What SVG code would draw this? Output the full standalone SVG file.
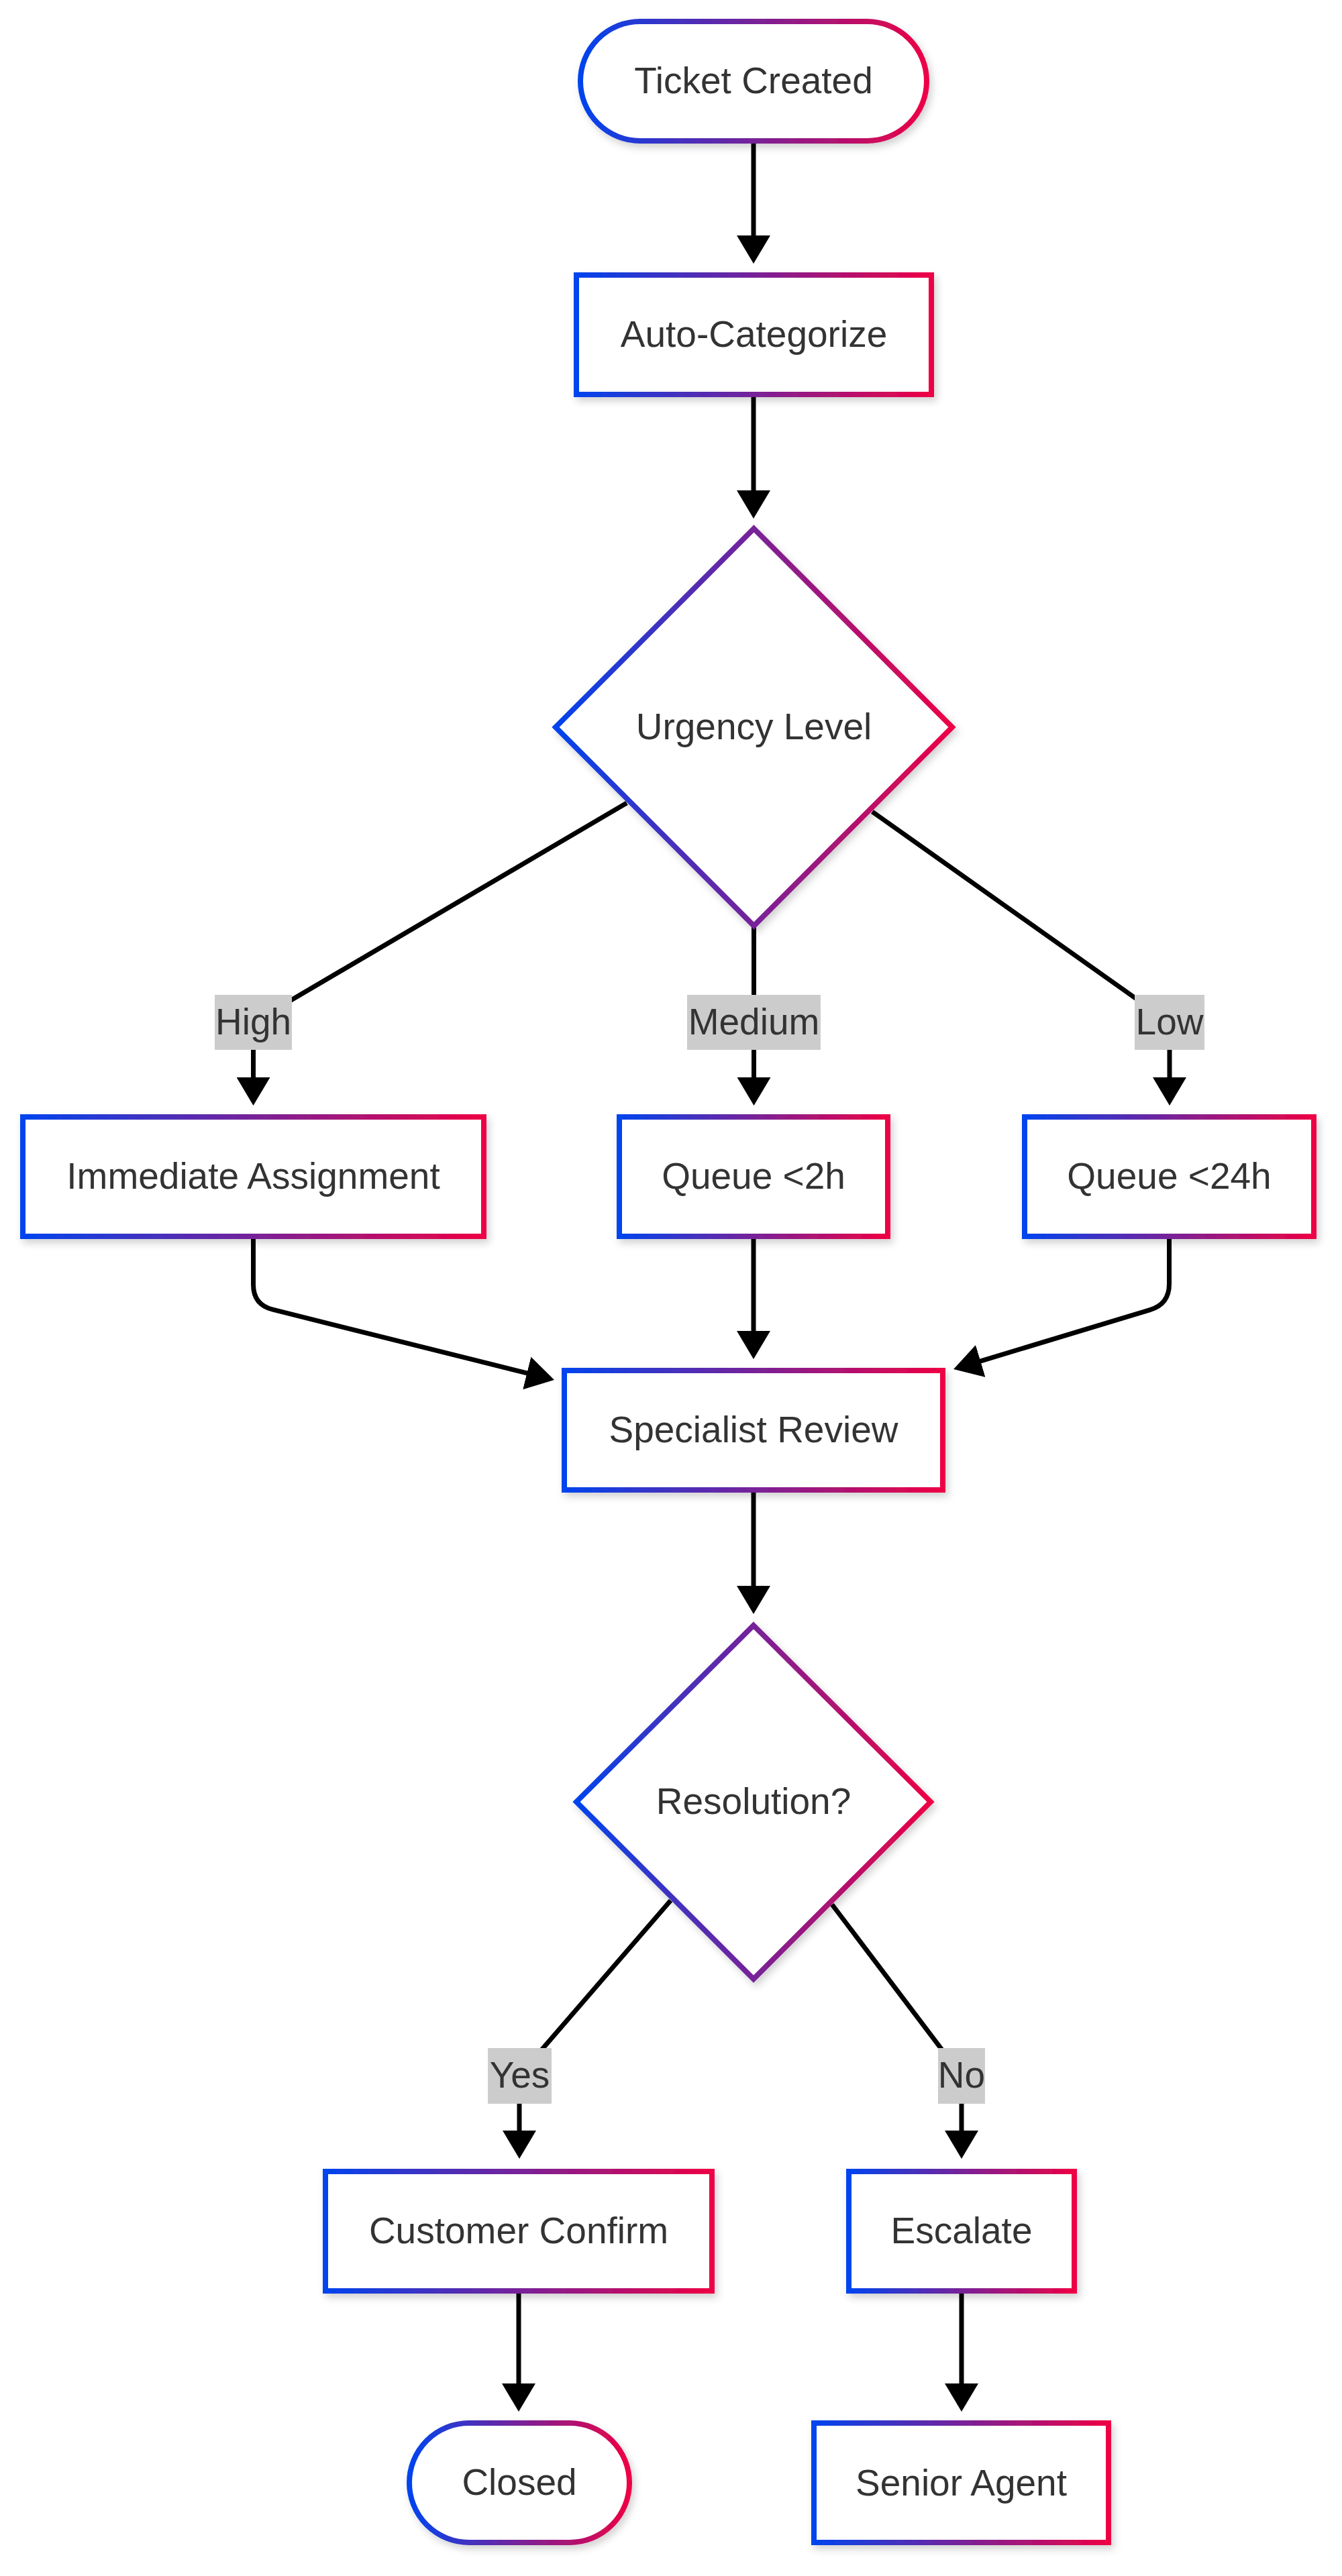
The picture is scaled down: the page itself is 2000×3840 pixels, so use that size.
<svg xmlns="http://www.w3.org/2000/svg" width="2000" height="3840" viewBox="0 0 2000 3840">
  <defs>
    <linearGradient id="grad" x1="0" y1="0" x2="1" y2="0">
      <stop offset="0" stop-color="#0044EE"/>
      <stop offset="1" stop-color="#EE0044"/>
    </linearGradient>
    <filter id="shadow" x="-10%" y="-10%" width="125%" height="130%">
      <feDropShadow dx="4" dy="6" stdDeviation="6" flood-color="#000" flood-opacity="0.18"/>
    </filter>
    <marker id="arrow" markerUnits="userSpaceOnUse" markerWidth="42" markerHeight="50" refX="3" refY="25" orient="auto" viewBox="0 0 42 50">
      <path d="M0,0 L42,25 L0,50 z" fill="#000"/>
    </marker>
    <style>
      .shape { fill: #ffffff; stroke: url(#grad); stroke-width: 8; filter: url(#shadow); }
      .label { font-family: "Liberation Sans", Arial, sans-serif; font-size: 55px; fill: #333333; text-anchor: middle; }
      .edge { fill: none; stroke: #000000; stroke-width: 7; stroke-linejoin: round; marker-end: url(#arrow); }
      .elbg { fill: #cccccc; }
    </style>
  </defs>
  <rect width="2000" height="3840" fill="#ffffff"/>

  <g id="connectors">
    <path class="edge" d="M1123 213 V354"/>
    <path class="edge" d="M1123 592 V734"/>
    <path class="edge" d="M934 1197 L377.5 1524 V1609"/>
    <path class="edge" d="M1123.5 1380 V1609"/>
    <path class="edge" d="M1300 1210 L1743 1524 V1609"/>
    <path class="edge" d="M377.5 1847 V1915 Q377.5 1945 406.6 1952.2 L788.2 2047.6"/>
    <path class="edge" d="M1123 1847 V1987"/>
    <path class="edge" d="M1742.5 1847 V1914 Q1742.5 1944 1713.8 1952.6 L1458.4 2029.8"/>
    <path class="edge" d="M1123 2225 V2367"/>
    <path class="edge" d="M999.5 2833 L774 3094 V3179"/>
    <path class="edge" d="M1240 2839 L1433 3094 V3179"/>
    <path class="edge" d="M773 3419 V3556"/>
    <path class="edge" d="M1433 3419 V3556"/>
  </g>

  <g id="edge-labels">
    <g id="label-high">
      <rect class="elbg" x="320" y="1483" width="115" height="82"/>
      <text class="label" x="377.5" y="1542">High</text>
    </g>
    <g id="label-medium">
      <rect class="elbg" x="1024" y="1483" width="199" height="82"/>
      <text class="label" x="1123.5" y="1542">Medium</text>
    </g>
    <g id="label-low">
      <rect class="elbg" x="1691" y="1483" width="104" height="82"/>
      <text class="label" x="1743" y="1542">Low</text>
    </g>
    <g id="label-yes">
      <rect class="elbg" x="727" y="3053" width="95" height="83"/>
      <text class="label" x="774.5" y="3112">Yes</text>
    </g>
    <g id="label-no">
      <rect class="elbg" x="1398" y="3053" width="70" height="83"/>
      <text class="label" x="1433" y="3112">No</text>
    </g>
  </g>

  <g id="nodes">
    <g id="ticket-created">
      <rect class="shape" x="865" y="32" width="516" height="178" rx="89" ry="89"/>
      <text class="label" x="1123" y="139">Ticket Created</text>
    </g>
    <g id="auto-categorize">
      <rect class="shape" x="859" y="410" width="529" height="178"/>
      <text class="label" x="1123.5" y="517">Auto-Categorize</text>
    </g>
    <g id="urgency-level">
      <polygon class="shape" points="1123.5,788 1419,1084 1123.5,1380 828,1084"/>
      <text class="label" x="1123.5" y="1102">Urgency Level</text>
    </g>
    <g id="immediate-assignment">
      <rect class="shape" x="34" y="1665" width="687" height="178"/>
      <text class="label" x="377.5" y="1772">Immediate Assignment</text>
    </g>
    <g id="queue-2h">
      <rect class="shape" x="923" y="1665" width="400" height="178"/>
      <text class="label" x="1123" y="1772">Queue &lt;2h</text>
    </g>
    <g id="queue-24h">
      <rect class="shape" x="1527" y="1665" width="431" height="178"/>
      <text class="label" x="1742.5" y="1772">Queue &lt;24h</text>
    </g>
    <g id="specialist-review">
      <rect class="shape" x="841" y="2043" width="564" height="178"/>
      <text class="label" x="1123" y="2150">Specialist Review</text>
    </g>
    <g id="resolution">
      <polygon class="shape" points="1123,2423 1387,2686 1123,2950 859,2686"/>
      <text class="label" x="1123" y="2704">Resolution?</text>
    </g>
    <g id="customer-confirm">
      <rect class="shape" x="485" y="3237" width="576" height="178"/>
      <text class="label" x="773" y="3344">Customer Confirm</text>
    </g>
    <g id="escalate">
      <rect class="shape" x="1265" y="3237" width="336" height="178"/>
      <text class="label" x="1433" y="3344">Escalate</text>
    </g>
    <g id="closed">
      <rect class="shape" x="610" y="3612" width="328" height="178" rx="89" ry="89"/>
      <text class="label" x="774" y="3719">Closed</text>
    </g>
    <g id="senior-agent">
      <rect class="shape" x="1213" y="3612" width="439" height="178"/>
      <text class="label" x="1432.5" y="3720">Senior Agent</text>
    </g>
  </g>
</svg>
